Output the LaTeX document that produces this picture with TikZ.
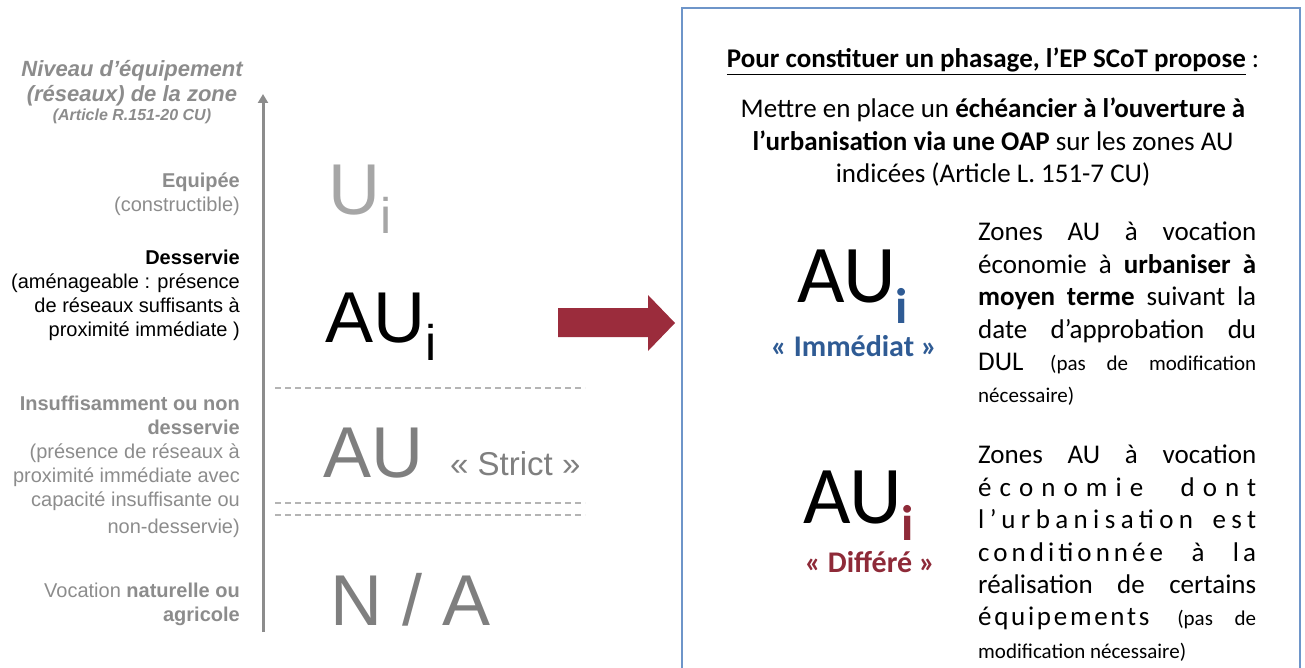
\documentclass[tikz,border=0pt]{standalone}
\usepackage{fontspec}
\setmainfont{Liberation Sans}
\newfontfamily\calibri{Carlito}
\usetikzlibrary{arrows.meta}

\definecolor{labelgray}{HTML}{8C8C8C}
\definecolor{lightgray}{HTML}{A6A6A6}
\definecolor{zonegray}{HTML}{7F7F7F}
\definecolor{sepgray}{HTML}{B4B4B4}
\definecolor{arrowred}{HTML}{9B2C3C}
\definecolor{boxblue}{HTML}{6E95C9}
\definecolor{immblue}{HTML}{2F5B94}
\definecolor{difred}{HTML}{8E2A38}
\newcommand\parsmall{\fontsize{21}{32.4}\selectfont}
\newcommand\subidx[2]{\raisebox{-#1}{\fontsize{50}{50}\selectfont #2}}

\begin{document}
\begin{tikzpicture}[x=1pt,y=-1pt,
	lefttxt/.style={anchor=north east,align=right,inner sep=0pt,font=\fontsize{20}{24}\selectfont},
	bigzone/.style={anchor=base west,inner sep=0pt,font=\fontsize{72}{72}\selectfont},
	boxtxt/.style={inner sep=0pt,font=\calibri\fontsize{27}{32.4}\selectfont},
	bigau/.style={anchor=base west,inner sep=0pt,font=\calibri\fontsize{82}{82}\selectfont},
	tag/.style={anchor=base,inner sep=0pt,font=\calibri\bfseries\fontsize{30}{30}\selectfont},
	sepline/.style={sepgray,line width=1.6pt,dash pattern=on 6pt off 4pt}]
	\useasboundingbox (0,0) rectangle (1305,668);

	% left scale
	\node[anchor=north,align=center,inner sep=0pt,text=labelgray,font=\bfseries\itshape\fontsize{22}{25}\selectfont]
		(niveau) at (132,60) {Niveau d’équipement\\(réseaux) de la zone\\[-6pt]{\fontsize{16}{18}\selectfont (Article R.151-20 CU)}};
	\coordinate (axisbot) at (263,632);
	\coordinate (axistop) at (263,94);
	\draw[labelgray,line width=3pt,-{Triangle[width=10pt,length=9pt]}] (axisbot) -- (axistop);

	\node[lefttxt,text=labelgray] (equipee) at (240,173) {\textbf{Equipée}\\(constructible)};
	\node[lefttxt] (desservie) at (240,250) {\textbf{Desservie}\\(aménageable : présence\\de réseaux suffisants à\\proximité immédiate )};
	\node[lefttxt,text=labelgray] (insuff) at (240,396) {\textbf{Insuffisamment ou non}\\\textbf{desservie}\\(présence de réseaux à\\proximité immédiate avec\\capacité insuffisante ou\\[3pt]non-desservie)};
	\node[lefttxt,text=labelgray] (vocation) at (240,583) {Vocation \textbf{naturelle ou}\\\textbf{agricole}};

	\foreach \y in {388,503,515}
		\draw[sepline] (275,\y) -- (585,\y);

	\node[bigzone,text=lightgray] (ui) at (328,215) {U\subidx{18pt}{i}};
	\node[bigzone] (aui) at (325,342) {AU\subidx{18pt}{i}};
	\node[bigzone,text=zonegray] (au) at (323,477) {AU};
	\node[anchor=base west,inner sep=0pt,text=zonegray,font=\fontsize{33}{33}\selectfont] (strict) at (450,475) {« Strict »};
	\node[bigzone,text=zonegray] (na) at (330,625) {N / A};

	% arrow to the box
	\fill[arrowred] (558,308) -- (648,308) -- (648,295) -- (675,323) -- (648,351) -- (648,337) -- (558,337) -- cycle;

	% right box
	\draw[boxblue,line width=1.3pt] (682,8) rectangle (1300,690);
	\node[boxtxt,anchor=base,font=\calibri\bfseries\fontsize{27}{32.4}\selectfont] (titre) at (993,68)
		{\underline{Pour constituer un phasage, l’EP SCoT propose}\mdseries~:};
	\node[boxtxt,anchor=north,align=center] (mettre) at (993,98)
		{Mettre en place un \textbf{échéancier à l’ouverture à}\\\textbf{l’urbanisation via une OAP} sur les zones AU\\indicées (Article L. 151-7 CU)};

	\node[bigau] (auimm) at (797,302) {AU\subidx{21pt}{\bfseries\color{immblue}i}};
	\node[tag,text=immblue] (immediat) at (854,356) {« Immédiat »};
	\node[boxtxt,anchor=north west,text width=278pt,align=justify] (txtimm) at (978,222)
		{Zones AU à vocation\linebreak
		économie à \textbf{urbaniser à}\linebreak
		\textbf{moyen terme} suivant la\linebreak
		date d’approbation du\linebreak
		DUL {\parsmall (pas de modification\linebreak
		nécessaire)}};

	\node[bigau] (audif) at (803,523) {AU\subidx{17pt}{\bfseries\color{difred}i}};
	\node[tag,text=difred] (differe) at (870,572) {« Différé »};
	\node[boxtxt,anchor=north west,text width=278pt,align=justify] (txtdif) at (978,445)
		{Zones AU à vocation\linebreak
		{\addfontfeature{LetterSpace=30}économie dont}\linebreak
		{\addfontfeature{LetterSpace=20}l’urbanisation est}\linebreak
		{\addfontfeature{LetterSpace=15}conditionnée à la}\linebreak
		réalisation de certains\linebreak
		{\addfontfeature{LetterSpace=10}équipements} {\parsmall (pas de\linebreak
		modification nécessaire)}};
\end{tikzpicture}
\end{document}
